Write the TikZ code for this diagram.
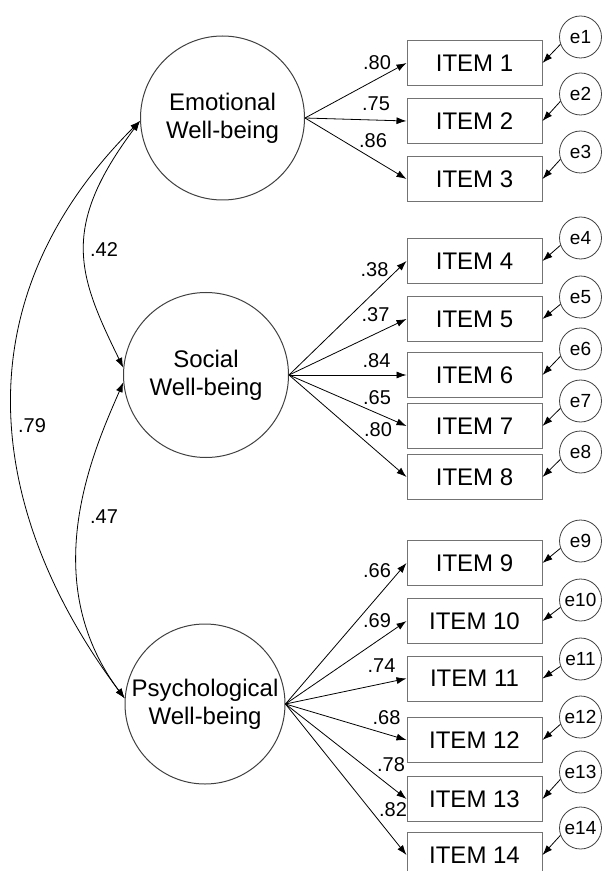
\documentclass[tikz,border=0pt]{standalone}
\usepackage{fontspec}
\setmainfont{Liberation Sans}
\usetikzlibrary{arrows.meta}
\begin{document}
\begin{tikzpicture}[x=0.5pt,y=-0.5pt]

    \tikzset{
      latent/.style={
        circle,
        draw=black!75,
        line width=0.5pt,
        inner sep=0pt,
        align=center,
        font=\fontsize{12}{14.2}\selectfont,
      },
      indicator/.style={
        rectangle,
        draw=black!55,
        line width=0.5pt,
        minimum width=67.5pt,
        minimum height=22.5pt,
        font=\fontsize{12}{14}\selectfont,
      },
      errterm/.style={
        circle,
        draw=black!75,
        line width=0.4pt,
        minimum size=21pt,
        inner sep=0pt,
        font=\fontsize{9.5}{11}\selectfont,
      },
      coef/.style={inner sep=0pt, font=\fontsize{10}{12}\selectfont},
      load/.style={line width=0.4pt, -{Latex[length=5pt,width=3.5pt]}},
      cov/.style={line width=0.4pt, {Latex[length=5pt,width=3.5pt]}-{Latex[length=5pt,width=3.5pt]}},
    }
    \useasboundingbox (0,0) rectangle (606,871);
    \clip (0,0) rectangle (606,871);

    % latent factors
    \node[latent, minimum size=82pt] (emo) at (222.5,118) {Emotional\\Well-being};
    \node[latent, minimum size=82.5pt] (soc) at (206,375) {Social\\Well-being};
    \node[latent, minimum size=80pt] (psy) at (205,704) {Psychological\\Well-being};

    % items and their error terms
    \foreach \i/\yi/\ye in {1/63/37, 2/121/94, 3/179/152, 4/261/238, 5/319/297,
        6/375/349, 7/426/401, 8/477/452, 9/563/541, 10/621/600, 11/678.5/659,
        12/740/717, 13/799/772, 14/855/828} {
      \node[indicator] (item\i) at (474.5,\yi) {ITEM \i};
      \node[errterm] (e\i) at (580.5,\ye) {e\i};
      \draw[load] (e\i.200) -- (item\i.east);
    }

    % loadings
    \foreach \f/\i/\x/\y/\v in {emo/1/377/63/.80, emo/2/376/104/.75, emo/3/373/141/.86,
        soc/4/374.5/270/.38, soc/5/375.5/315/.37, soc/6/376.5/361/.84,
        soc/7/377/398/.65, soc/8/378/430/.80,
        psy/9/377/571/.66, psy/10/377/621/.69, psy/11/381.5/666/.74,
        psy/12/386.5/718/.68, psy/13/391/765/.78, psy/14/393/809.5/.82} {
      \draw[load] (\f.east) -- (item\i.west);
      \node[coef] (c\i) at (\x,\y) {\v};
    }

    % correlations
    \draw[cov] (emo.182) .. controls +(-80.6,107.4) and +(-45.2,-92.4) .. (soc.175);
    \draw[cov] (soc.185) .. controls +(-28.5,65.6) and +(-89.9,-119.8) .. (psy.176);
    \draw[cov] (emo.182) .. controls +(-199,199) and +(-120,-160) .. (psy.176);
    \node[coef] (r1) at (104,250) {.42};
    \node[coef] (r2) at (104,517) {.47};
    \node[coef] (r3) at (32,426) {.79};

\end{tikzpicture}
\end{document}
